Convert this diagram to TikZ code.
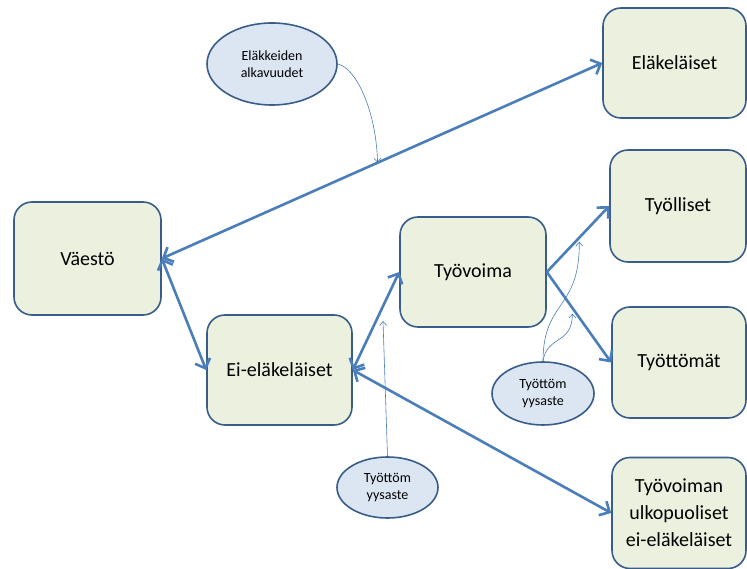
\documentclass[tikz,border=0pt]{standalone}
\usepackage{fontspec}
\setmainfont{Carlito}
\usetikzlibrary{arrows.meta,positioning,calc,shapes.geometric}
\definecolor{edge}{HTML}{385D8A}
\definecolor{flow}{HTML}{4A7EBB}
\definecolor{sage}{HTML}{EBF1DE}
\definecolor{mist}{HTML}{DCE6F2}
\tikzset{box/.style={draw=edge,fill=sage,line width=1.6pt,rounded corners=18pt,align=center,
  minimum width=145pt,minimum height=111pt,font=\fontsize{20}{27}\selectfont,inner sep=2pt},
  rate/.style={ellipse,draw=edge,fill=mist,line width=1.6pt,align=center,inner sep=0pt,
  font=\fontsize{14}{17}\selectfont},
  arrow/.style={-{Straight Barb[length=8pt,width=16pt]},line width=2.6pt,draw=flow},
  twoway/.style={{Straight Barb[length=8pt,width=16pt]}-{Straight Barb[length=8pt,width=16pt]},
  line width=2.6pt,draw=flow},
  hint/.style={-{Straight Barb[length=4pt,width=7pt]},line width=0.6pt,draw=flow}}

\begin{document}
\begin{tikzpicture}[x=1pt,y=-1pt]
\useasboundingbox (0,0) rectangle (747,569);
\node[box,minimum width=147pt,minimum height=113pt] (vaesto) at (87.5,258.5) {Väestö};
\node[box,minimum width=143pt,minimum height=110pt] (elakelaiset) at (674.5,63) {Eläkeläiset};
\node[box,minimum width=136pt,minimum height=112pt] (tyolliset) at (678,206) {Työlliset};
\node[box,minimum width=134pt,minimum height=111pt] (tyottomat) at (679,362.5) {Työttömät};
\node[box,minimum width=134pt,minimum height=111pt] (ulkopuoliset) at (679,513) {Työvoiman\\ulkopuoliset\\ei-eläkeläiset};
\node[box,minimum width=145pt,minimum height=110pt] (eielakelaiset) at (279.5,370) {Ei-eläkeläiset};
\node[box,minimum width=146pt,minimum height=110pt] (tyovoima) at (473,272) {Työvoima};
\node[rate,minimum width=130pt,minimum height=82pt] (alkavuus) at (272,64) {Eläkkeiden\\alkavuudet};
\node[rate,minimum width=101pt,minimum height=61pt] (tyottomyys) at (387.5,487.5) {Työttöm\\yysaste};
\node[rate,minimum width=102pt,minimum height=63pt] (tyottomyys2) at (543,393.5) {Työttöm\\yysaste};
\draw[twoway] (vaesto.east)--(elakelaiset.west);\draw[twoway] (vaesto.east)--(eielakelaiset.west);
\draw[twoway] (eielakelaiset.east)--(tyovoima.west);\draw[twoway] (eielakelaiset.east)--(ulkopuoliset.west);
\draw[arrow] (tyovoima.east)--(tyolliset.west);\draw[arrow] (tyovoima.east)--(tyottomat.west);
% where the rates act
\coordinate (p1) at ($(vaesto.east)!0.49!(elakelaiset.west)$);
\coordinate (p2) at ($(eielakelaiset.east)!0.5!(tyovoima.west)+(7,0)$);
\coordinate (p3) at ($(tyovoima.east)!0.52!(tyolliset.west)+(0,4)$);
\coordinate (p4) at ($(tyovoima.east)!0.46!(tyottomat.west)+(-4,0)$);
\draw[hint] (alkavuus.east) .. controls (356,68) and (376,110) .. (p1);
\draw[hint] (tyottomyys.north)--(p2);
\draw[hint] (tyottomyys2.north) .. controls (543,300) and (580,310) .. (p3);
\draw[hint] (tyottomyys2.north) .. controls (547,335) and (572,345) .. (p4);
\end{tikzpicture}
\end{document}
